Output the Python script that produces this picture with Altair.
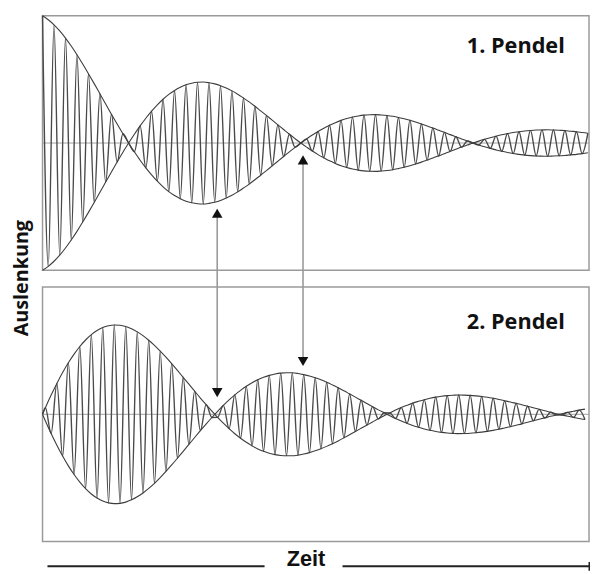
import altair as alt
import pandas as pd

# ---- data (units: 1 = initial amplitude) ----
# envelope value at each half period of the fast oscillation (pendulum 1, t = 0,1,2,...)
top_envelope = [
    1.000, 0.969, 0.929, 0.881, 0.825, 0.762, 0.694, 0.621, 0.545, 0.467,
    0.387, 0.307, 0.227, 0.149, 0.073, 0.000, -0.069, -0.135, -0.195, -0.250,
    -0.300, -0.344, -0.382, -0.413, -0.438, -0.458, -0.470, -0.477, -0.479, -0.474,
    -0.465, -0.451, -0.432, -0.410, -0.384, -0.354, -0.323, -0.289, -0.253, -0.217,
    -0.180, -0.143, -0.106, -0.069, -0.034, 0.000, 0.032, 0.063, 0.091, 0.116,
    0.140, 0.160, 0.178, 0.192, 0.204, 0.213, 0.219, 0.222, 0.223, 0.220,
    0.216, 0.210, 0.201, 0.191, 0.179, 0.165, 0.150, 0.134, 0.118, 0.101,
    0.084, 0.066, 0.049, 0.032, 0.016, 0.000, -0.015, -0.029, -0.042, -0.054,
    -0.065, -0.074, -0.083, -0.089, -0.095, -0.099, -0.102, -0.103, -0.104, -0.102,
    -0.100, -0.098, -0.093, -0.089, -0.083, -0.077,
]
# pendulum 2, envelope at t = 0.5, 1.5, 2.5, ...
bottom_envelope = [
    0.052, 0.151, 0.243, 0.328, 0.405, 0.473, 0.533, 0.584, 0.626, 0.658,
    0.682, 0.696, 0.702, 0.700, 0.690, 0.672, 0.648, 0.618, 0.582, 0.542,
    0.497, 0.449, 0.398, 0.345, 0.291, 0.237, 0.182, 0.128, 0.076, 0.025,
    -0.024, -0.070, -0.113, -0.153, -0.188, -0.220, -0.248, -0.272, -0.291, -0.306,
    -0.317, -0.324, -0.326, -0.326, -0.321, -0.312, -0.301, -0.287, -0.271, -0.252,
    -0.231, -0.209, -0.185, -0.160, -0.135, -0.110, -0.085, -0.060, -0.035, -0.012,
    0.011, 0.033, 0.053, 0.071, 0.088, 0.102, 0.115, 0.126, 0.135, 0.142,
    0.147, 0.150, 0.152, 0.151, 0.149, 0.145, 0.140, 0.134, 0.126, 0.117,
    0.107, 0.097, 0.086, 0.075, 0.063, 0.051, 0.039, 0.028, 0.016, 0.005,
    -0.005, -0.015, -0.024, -0.033, -0.041,
]
panel_labels = ["1. Pendel", "2. Pendel"]
y_label = "Auslenkung"
x_label = "Zeit"

# ---- layout constants ----
TOP = 2.132      # vertical offset of the upper panel's zero line
XMAX = 95.2

t_top = list(range(len(top_envelope)))
t_bot = [0.0] + [k + 0.5 for k in range(len(bottom_envelope))]
env_bot = [0.0] + bottom_envelope

osc_top = pd.DataFrame({"t": t_top,
                        "y": [TOP + v * (-1) ** k for k, v in enumerate(top_envelope)]})
env_top_a = pd.DataFrame({"t": t_top, "y": [TOP + v for v in top_envelope]})
env_top_b = pd.DataFrame({"t": t_top, "y": [TOP - v for v in top_envelope]})

osc_bot = pd.DataFrame({"t": t_bot,
                        "y": [0.0] + [v * (-1) ** k for k, v in enumerate(bottom_envelope)]})
env_bot_a = pd.DataFrame({"t": t_bot, "y": env_bot})
env_bot_b = pd.DataFrame({"t": t_bot, "y": [-v for v in env_bot]})

xs = alt.Scale(domain=[0, XMAX], nice=False, zero=False)
ys = alt.Scale(domain=[-1, TOP + 1], nice=False, zero=False)


def enc(**kw):
    out = {}
    for k, v in kw.items():
        if k == "x":
            out[k] = alt.X(v, type="quantitative", scale=xs, axis=None)
        elif k == "y":
            out[k] = alt.Y(v, type="quantitative", scale=ys, axis=None)
        elif k == "x2":
            out[k] = alt.X2(v)
        elif k == "y2":
            out[k] = alt.Y2(v)
    return out


boxes = alt.Chart(pd.DataFrame({
    "x": [0, 0], "x2": [XMAX, XMAX], "y": [TOP - 1, -1], "y2": [TOP + 1, 1]
})).mark_rect(fillOpacity=0, stroke="#9a9a9a", strokeWidth=1.5).encode(
    **enc(x="x", x2="x2", y="y", y2="y2"))

zero_lines = alt.Chart(pd.DataFrame({
    "x": [0, 0], "x2": [XMAX, XMAX], "y": [TOP, 0]
})).mark_rule(color="#a0a0a0", strokeWidth=1).encode(**enc(x="x", x2="x2", y="y"))


def osc_line(df):
    return alt.Chart(df).mark_line(color="#4a4a4a", strokeWidth=1.4,
                                   interpolate="monotone").encode(**enc(x="t", y="y"))


def env_line(df):
    return alt.Chart(df).mark_line(color="#3c3c3c", strokeWidth=1.1,
                                   interpolate="monotone").encode(**enc(x="t", y="y"))


arrows = alt.Chart(pd.DataFrame({
    "x": [30.43, 45.38], "y": [1.58, 2.0], "y2": [0.17, 0.415]
})).mark_rule(color="#9a9a9a", strokeWidth=1.6).encode(**enc(x="x", y="y", y2="y2"))

heads = alt.Chart(pd.DataFrame({
    "x": [30.43, 30.43, 45.38, 45.38],
    "y": [1.58, 0.17, 2.0, 0.415],
    "shape": ["triangle-up", "triangle-down", "triangle-up", "triangle-down"],
})).mark_point(filled=True, color="#111111", opacity=1, size=115).encode(
    shape=alt.Shape("shape:N", scale=None), **enc(x="x", y="y"))

labels = alt.Chart(pd.DataFrame({
    "x": [73.9, 73.9], "y": [TOP + 0.759, 0.721], "text": panel_labels
})).mark_text(align="left", baseline="middle", font="Open Sans", fontWeight="bold",
              fontSize=22, color="#111111").encode(text="text:N", **enc(x="x", y="y"))

ylab = alt.Chart(pd.DataFrame({"x": [-3.6], "y": [1.07], "text": [y_label]})).mark_text(
    align="center", baseline="middle", angle=270, font="Open Sans", fontWeight="bold",
    fontSize=20, color="#111111").encode(text="text:N", **enc(x="x", y="y"))

xlab = alt.Chart(pd.DataFrame({"x": [45.9], "y": [-1.14], "text": [x_label]})).mark_text(
    align="center", baseline="middle", font="Liberation Sans", fontWeight="bold",
    fontSize=22, color="#111111").encode(text="text:N", **enc(x="x", y="y"))

xline = alt.Chart(pd.DataFrame({
    "x": [0.86, 52.26], "x2": [38.68, 95.24], "y": [-1.194, -1.194]
})).mark_rule(color="#222222", strokeWidth=2).encode(**enc(x="x", x2="x2", y="y"))

xtick = alt.Chart(pd.DataFrame({"x": [95.24], "y": [-1.16], "y2": [-1.23]})).mark_rule(
    color="#222222", strokeWidth=1.5).encode(**enc(x="x", y="y", y2="y2"))

chart = alt.layer(
    boxes, zero_lines,
    osc_line(osc_top), env_line(env_top_a), env_line(env_top_b),
    osc_line(osc_bot), env_line(env_bot_a), env_line(env_bot_b),
    arrows, heads, labels, ylab, xline, xtick, xlab,
).properties(
    width=554, height=533,
    autosize=alt.AutoSizeParams(type="none"),
    padding={"left": 35, "top": 4, "right": 1, "bottom": 29},
    background="white",
).configure_view(stroke=None)

chart.save("out.html", embed_options={"renderer": "svg", "actions": False})
